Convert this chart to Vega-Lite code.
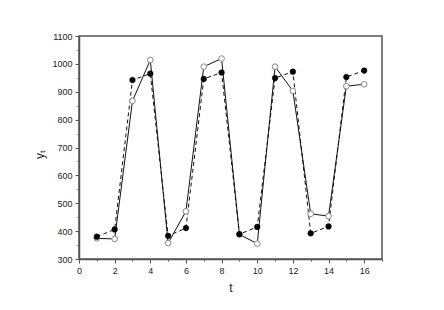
{
  "$schema": "https://vega.github.io/schema/vega-lite/v6.json",
  "autosize": {"type": "none"},
  "width": 303,
  "height": 223,
  "padding": {"left": 79, "top": 36, "right": 62, "bottom": 51},
  "background": "white",
  "config": {
    "view": {"stroke": "#555555", "strokeWidth": 1.5},
    "axis": {
      "labelFont": "Liberation Sans",
      "titleFont": "Liberation Sans",
      "labelFontSize": 9,
      "titleFontSize": 11,
      "titleFontWeight": "normal",
      "labelColor": "#222222",
      "titleColor": "#222222",
      "domainColor": "#555555",
      "domainWidth": 1.5,
      "tickColor": "#555555",
      "tickWidth": 1,
      "grid": false,
      "labelPadding": 3
    }
  },
  "data": {
    "values": [
      {"t": 1, "series": "filled", "y": 380},
      {"t": 2, "series": "filled", "y": 406},
      {"t": 3, "series": "filled", "y": 942},
      {"t": 4, "series": "filled", "y": 965},
      {"t": 5, "series": "filled", "y": 383},
      {"t": 6, "series": "filled", "y": 411},
      {"t": 7, "series": "filled", "y": 946},
      {"t": 8, "series": "filled", "y": 969},
      {"t": 9, "series": "filled", "y": 389},
      {"t": 10, "series": "filled", "y": 415},
      {"t": 11, "series": "filled", "y": 949},
      {"t": 12, "series": "filled", "y": 972},
      {"t": 13, "series": "filled", "y": 392},
      {"t": 14, "series": "filled", "y": 417},
      {"t": 15, "series": "filled", "y": 953},
      {"t": 16, "series": "filled", "y": 976},
      {"t": 1, "series": "open", "y": 374},
      {"t": 2, "series": "open", "y": 372},
      {"t": 3, "series": "open", "y": 867},
      {"t": 4, "series": "open", "y": 1014},
      {"t": 5, "series": "open", "y": 357},
      {"t": 6, "series": "open", "y": 471},
      {"t": 7, "series": "open", "y": 990},
      {"t": 8, "series": "open", "y": 1019},
      {"t": 9, "series": "open", "y": 388},
      {"t": 10, "series": "open", "y": 355},
      {"t": 11, "series": "open", "y": 990},
      {"t": 12, "series": "open", "y": 903},
      {"t": 13, "series": "open", "y": 462},
      {"t": 14, "series": "open", "y": 454},
      {"t": 15, "series": "open", "y": 920},
      {"t": 16, "series": "open", "y": 927}
    ]
  },
  "encoding": {
    "x": {
      "field": "t",
      "type": "quantitative",
      "scale": {"domain": [0, 17], "nice": false, "zero": false},
      "axis": {
        "title": "t",
        "titleFontSize": 12,
        "titlePadding": 7,
        "values": [0,1,2,3,4,5,6,7,8,9,10,11,12,13,14,15,16,17],
        "labelExpr": "datum.value % 2 === 0 && datum.value < 17 ? datum.label : ''",
        "tickSize": {"condition": {"test": "datum.value % 2 === 0", "value": 4}, "value": 2},
        "labelFlush": false
      }
    },
    "y": {
      "field": "y",
      "type": "quantitative",
      "scale": {"domain": [300, 1100], "nice": false, "zero": false},
      "axis": {
        "title": "yₜ",
        "titleFontSize": 12,
        "titlePadding": 5,
        "titleY": 118,
        "values": [300,350,400,450,500,550,600,650,700,750,800,850,900,950,1000,1050,1100],
        "labelExpr": "datum.value % 100 === 0 ? datum.label : ''",
        "tickSize": {"condition": {"test": "datum.value % 100 === 0", "value": 4}, "value": 2},
        "labelFlush": false,
        "format": "d"
      }
    }
  },
  "layer": [
    {
      "transform": [{"filter": "datum.series === 'open'"}],
      "mark": {"type": "line", "color": "#111111", "strokeWidth": 1}
    },
    {
      "transform": [{"filter": "datum.series === 'filled'"}],
      "mark": {"type": "line", "color": "#111111", "strokeWidth": 1, "strokeDash": [4, 3]}
    },
    {
      "transform": [{"filter": "datum.series === 'open'"}],
      "mark": {"type": "point", "shape": "circle", "filled": true, "fill": "white", "stroke": "#888888", "strokeWidth": 1, "size": 32, "opacity": 1}
    },
    {
      "transform": [{"filter": "datum.series === 'filled'"}],
      "mark": {"type": "point", "shape": "circle", "filled": true, "fill": "#000000", "stroke": "#000000", "strokeWidth": 0.5, "size": 32, "opacity": 1}
    }
  ]
}
